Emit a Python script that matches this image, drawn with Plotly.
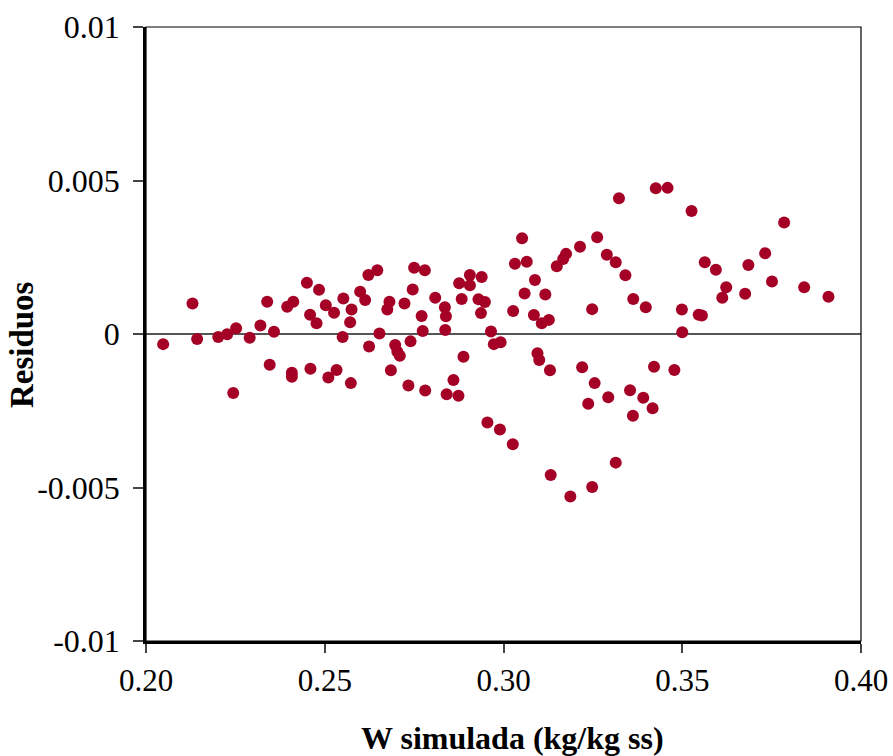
import plotly.graph_objects as go

w_simulada = [
    0.2048, 0.2130, 0.2143, 0.2202, 0.2227, 0.2252, 0.2290, 0.2320, 0.2358, 0.2339,
    0.2244, 0.2346, 0.2408, 0.2408, 0.2460, 0.2395, 0.2412, 0.2450, 0.2459, 0.2484,
    0.2477, 0.2503, 0.2526, 0.2552, 0.2575, 0.2571, 0.2550, 0.2599, 0.2613, 0.2622,
    0.2647, 0.2653, 0.2624, 0.2681, 0.2675, 0.2723, 0.2746, 0.2750, 0.2780, 0.2697,
    0.2703, 0.2710, 0.2740, 0.2685, 0.2510, 0.2533, 0.2573, 0.2734, 0.2781, 0.2771,
    0.2774, 0.2809, 0.2836, 0.2839, 0.2837, 0.2876, 0.2906, 0.2906, 0.2939, 0.2883,
    0.2930, 0.2948, 0.2937, 0.2888, 0.2860, 0.2841, 0.2874, 0.2965, 0.3426, 0.3323,
    0.3052, 0.3262, 0.3214, 0.3175, 0.3167, 0.3149, 0.3032, 0.3065, 0.3289, 0.3314,
    0.3341, 0.3088, 0.3059, 0.3117, 0.3363, 0.3398, 0.3248, 0.3027, 0.3085, 0.3107,
    0.3127, 0.2973, 0.2992, 0.3095, 0.3100, 0.3130, 0.3220, 0.3255, 0.3293, 0.3237,
    0.3354, 0.3391, 0.3417, 0.3362, 0.3421, 0.2955, 0.2990, 0.3026, 0.3314, 0.3132,
    0.3248, 0.3187, 0.3459, 0.3526, 0.3785, 0.3732, 0.3563, 0.3594, 0.3685, 0.3623,
    0.3612, 0.3676, 0.3751, 0.3841, 0.3909, 0.3499, 0.3546, 0.3555, 0.3500, 0.3478,
]

residuos = [
    -0.00033, 0.00099, -0.00016, -0.00010, -0.00001, 0.00019, -0.00012, 0.00028, 0.00007, 0.00105,
    -0.00192, -0.00100, -0.00126, -0.00139, -0.00113, 0.00089, 0.00105, 0.00167, 0.00063, 0.00144,
    0.00035, 0.00094, 0.00069, 0.00116, 0.00080, 0.00038, -0.00010, 0.00138, 0.00111, 0.00192,
    0.00208, 0.00002, -0.00041, 0.00105, 0.00080, 0.00099, 0.00145, 0.00216, 0.00208, -0.00036,
    -0.00058, -0.00071, -0.00024, -0.00118, -0.00142, -0.00117, -0.00160, -0.00168, -0.00184, 0.00059,
    0.00010, 0.00118, 0.00087, 0.00058, 0.00013, 0.00165, 0.00192, 0.00159, 0.00186, 0.00114,
    0.00113, 0.00104, 0.00068, -0.00074, -0.00150, -0.00196, -0.00201, 0.00008, 0.00475, 0.00442,
    0.00312, 0.00315, 0.00284, 0.00261, 0.00244, 0.00221, 0.00229, 0.00235, 0.00258, 0.00234,
    0.00191, 0.00176, 0.00132, 0.00129, 0.00114, 0.00087, 0.00081, 0.00075, 0.00062, 0.00035,
    0.00046, -0.00033, -0.00027, -0.00063, -0.00085, -0.00118, -0.00108, -0.00160, -0.00206, -0.00227,
    -0.00183, -0.00208, -0.00242, -0.00266, -0.00107, -0.00288, -0.00311, -0.00359, -0.00419, -0.00459,
    -0.00498, -0.00529, 0.00476, 0.00401, 0.00363, 0.00263, 0.00234, 0.00209, 0.00225, 0.00152,
    0.00118, 0.00131, 0.00171, 0.00152, 0.00121, 0.00080, 0.00063, 0.00060, 0.00006, -0.00117,
]

x_ticks = [0.20, 0.25, 0.30, 0.35, 0.40]
x_tick_labels = ["0.20", "0.25", "0.30", "0.35", "0.40"]
y_ticks = [-0.01, -0.005, 0, 0.005, 0.01]
y_tick_labels = ["-0.01", "-0.005", "0", "0.005", "0.01"]

FONT = "Liberation Serif, Times New Roman, serif"

fig = go.Figure()
fig.add_trace(go.Scatter(
    x=w_simulada, y=residuos, mode="markers",
    marker=dict(size=12, color="#A50026", line=dict(width=0)),
    showlegend=False,
))

fig.update_layout(
    width=893, height=756,
    margin=dict(l=146, r=32, t=27, b=115),
    paper_bgcolor="white", plot_bgcolor="white",
    font=dict(family=FONT, size=32, color="black"),
    xaxis=dict(
        range=[0.2, 0.4], tickvals=x_ticks, ticktext=x_tick_labels,
        showgrid=False, zeroline=False,
        showline=True, linecolor="black", linewidth=2.5,
        ticks="outside", ticklen=9, tickwidth=1.5, tickcolor="#444",
        tickfont=dict(family=FONT, size=31),
        automargin=False, ticklabelstandoff=1,
    ),
    yaxis=dict(
        range=[-0.01, 0.01], tickvals=y_ticks, ticktext=y_tick_labels,
        showgrid=False,
        zeroline=True, zerolinecolor="#555", zerolinewidth=1.5,
        showline=True, linecolor="black", linewidth=2.5,
        ticks="outside", ticklen=10, tickwidth=1.5, tickcolor="#444",
        tickfont=dict(family=FONT, size=32),
        automargin=False, ticklabelstandoff=7,
    ),
    shapes=[dict(type="rect", xref="paper", yref="paper", x0=0, y0=0, x1=1, y1=1,
                 line=dict(color="black", width=1.2), layer="above")],
    annotations=[
        dict(text="<b>W simulada (kg/kg ss)</b>", xref="paper", yref="paper",
             x=0.513, y=-0.158, xanchor="center", yanchor="middle", showarrow=False,
             font=dict(family=FONT, size=32, color="black")),
        dict(text="<b>Residuos</b>", xref="paper", yref="paper",
             x=-0.1734, y=0.482, xanchor="center", yanchor="middle", showarrow=False,
             textangle=-90, font=dict(family=FONT, size=33, color="black")),
    ],
)

# remove the default 8px page margin so the figure fills the window exactly
fig.write_html(
    "out.html",
    config={"displayModeBar": False},
    post_script="document.body.style.margin='0';document.body.style.overflow='hidden';",
)
